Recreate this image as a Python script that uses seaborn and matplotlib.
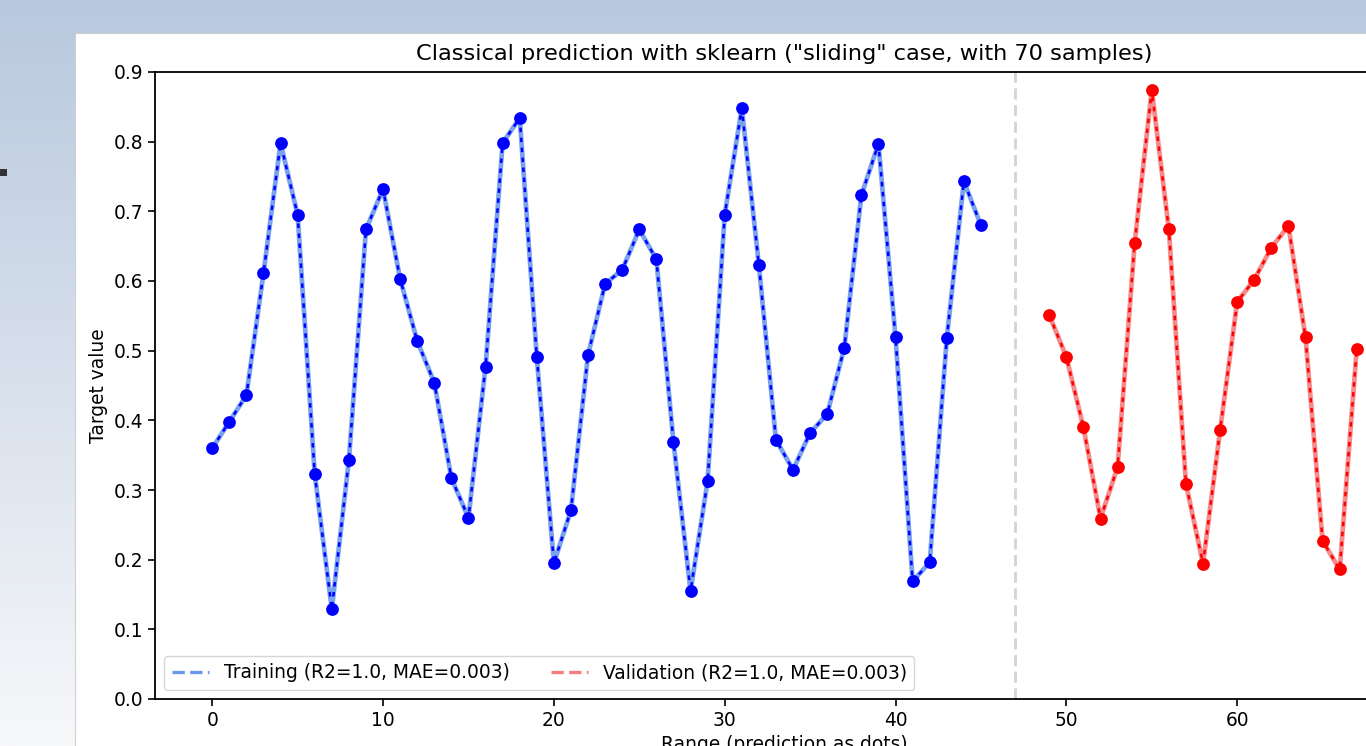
import numpy as np
import pandas as pd
import matplotlib
matplotlib.use("Agg")
import matplotlib.pyplot as plt
from matplotlib.lines import Line2D
from matplotlib.patches import Rectangle
import seaborn as sns

# ---- data ----
train_x = list(range(0, 46))
train_y = [0.360, 0.398, 0.436, 0.611, 0.798, 0.695, 0.323, 0.129, 0.343, 0.674,
           0.732, 0.603, 0.514, 0.454, 0.317, 0.260, 0.477, 0.798, 0.834, 0.491,
           0.195, 0.271, 0.494, 0.596, 0.616, 0.674, 0.631, 0.369, 0.155, 0.313,
           0.695, 0.848, 0.623, 0.372, 0.329, 0.382, 0.409, 0.504, 0.723, 0.797,
           0.519, 0.169, 0.196, 0.518, 0.743, 0.680]
val_x = list(range(49, 68))
val_y = [0.551, 0.491, 0.390, 0.259, 0.333, 0.655, 0.874, 0.674, 0.309, 0.194,
         0.386, 0.570, 0.602, 0.648, 0.679, 0.519, 0.227, 0.186, 0.503]
split_x = 47
title = 'Classical prediction with sklearn ("sliding" case, with 70 samples)'
train_label = "Training (R2=1.0, MAE=0.003)"
val_label = "Validation (R2=1.0, MAE=0.003)"
y_ticks = [0.0, 0.1, 0.2, 0.3, 0.4, 0.5, 0.6, 0.7, 0.8, 0.9]
x_ticks = [0, 10, 20, 30, 40, 50, 60]

train_df = pd.DataFrame({"x": train_x, "y": train_y})
val_df = pd.DataFrame({"x": val_x, "y": val_y})

W, H = 1366, 746
fig = plt.figure(figsize=(W / 100, H / 100), dpi=100)

# background gradient (screenshot surroundings)
bg = fig.add_axes([0, 0, 1, 1], zorder=-10)
top = np.array([184, 200, 222]) / 255.0
bot = np.array([247, 248, 250]) / 255.0
t = np.linspace(0, 1, 256)[:, None]
grad = top[None, :] * (1 - t) + bot[None, :] * t
bg.imshow(grad[:, None, :].repeat(2, axis=1), aspect="auto", extent=[0, 1, 0, 1],
          origin="upper")
bg.set_axis_off()
# white figure panel
fig.patches.append(Rectangle((75 / W, -0.1), 1.0, (H - 33) / H + 0.1,
                             transform=fig.transFigure, facecolor="white",
                             edgecolor="#cfcfcf", linewidth=0.8, zorder=-5))
fig.patches.append(Rectangle((0, (H - 176) / H), 7 / W, 7 / H,
                             transform=fig.transFigure, facecolor="#333333",
                             edgecolor="none", zorder=-5))

left, right, top_px, bottom_px = 155, 1414, 72, 699
ax = fig.add_axes([left / W, (H - bottom_px) / H, (right - left) / W,
                   (bottom_px - top_px) / H])
ax.set_facecolor("white")

train_light = "#6B98EE"
val_light = "#F47E7E"

sns.lineplot(data=train_df, x="x", y="y", ax=ax, color=train_light, lw=3.4,
             alpha=0.9, zorder=2)
sns.lineplot(data=train_df, x="x", y="y", ax=ax, color="blue", lw=1.8,
             marker="o", markersize=9.2, markeredgecolor="blue",
             markeredgewidth=0, zorder=3)
sns.lineplot(data=val_df, x="x", y="y", ax=ax, color=val_light, lw=3.4,
             alpha=0.9, zorder=2)
sns.lineplot(data=val_df, x="x", y="y", ax=ax, color="red", lw=1.8,
             marker="o", markersize=9.2, markeredgecolor="red",
             markeredgewidth=0, zorder=3)
for ln in ax.lines[1::2]:
    ln.set_linestyle((0, (1.8, 2.2)))

ax.axvline(split_x, color="#d3d3d3", ls=(0, (4, 2)), lw=2, zorder=1)

ax.set_xlim(-3.35, 70.35)
ax.set_ylim(0, 0.9)
ax.set_xticks(x_ticks)
ax.set_yticks(y_ticks)
ax.set_yticklabels([f"{v:.1f}" for v in y_ticks])
ax.tick_params(labelsize=13.4, length=5, width=1.2)
for s in ax.spines.values():
    s.set_linewidth(1.3)
ax.set_title(title, fontsize=16.2, pad=9)
ax.set_xlabel("Range (prediction as dots)", fontsize=13.4)
ax.set_ylabel("Target value", fontsize=13.4)

handles = [Line2D([], [], color=train_light, ls="--", lw=2.4),
           Line2D([], [], color=val_light, ls="--", lw=2.4)]
ax.legend(handles, [train_label, val_label], loc="lower left", ncol=2,
          fontsize=13.4, columnspacing=2.2, handlelength=2.0,
          borderaxespad=0.5)

fig.savefig("out.png", dpi=100)
